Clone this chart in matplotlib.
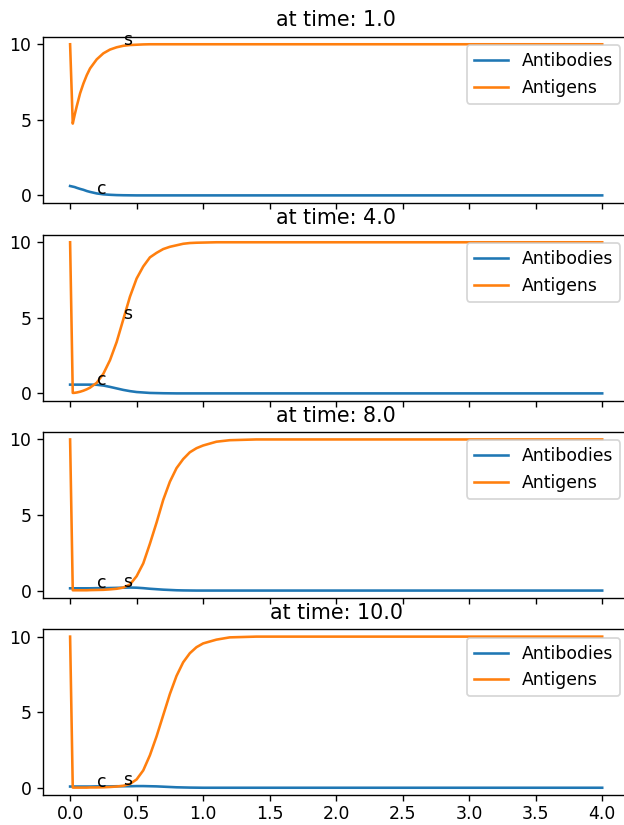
import matplotlib
matplotlib.use("Agg")
import matplotlib.pyplot as plt

# sample times of the simulation
t = [0.0, 0.02, 0.035, 0.05, 0.075, 0.1, 0.125, 0.15, 0.2, 0.25, 0.3, 0.35,
     0.4, 0.45, 0.5, 0.55, 0.6, 0.65, 0.7, 0.75, 0.8, 0.85, 0.9, 0.95, 1.0,
     1.1, 1.2, 1.4, 1.6, 2.0, 4.0]

snap_times = [1.0, 4.0, 8.0, 10.0]

antibodies_1 = [0.62, 0.58, 0.55, 0.5, 0.43, 0.37, 0.29, 0.23, 0.13, 0.07,
                0.04, 0.02, 0.01, 0.005, 0, 0, 0, 0, 0, 0, 0, 0, 0, 0, 0, 0,
                0, 0, 0, 0, 0]
antigens_1 = [10, 4.75, 5.35, 5.9, 6.75, 7.4, 7.95, 8.4, 9.0, 9.4, 9.65, 9.8,
              9.9, 9.95, 9.97, 9.99, 10, 10, 10, 10, 10, 10, 10, 10, 10, 10,
              10, 10, 10, 10, 10]

antibodies_4 = [0.58, 0.58, 0.58, 0.58, 0.58, 0.58, 0.58, 0.58, 0.57, 0.52,
                0.43, 0.33, 0.23, 0.15, 0.09, 0.06, 0.03, 0.02, 0.01, 0.005,
                0, 0, 0, 0, 0, 0, 0, 0, 0, 0, 0]
antigens_4 = [10, 0.03, 0.04, 0.06, 0.11, 0.18, 0.27, 0.38, 0.7, 1.3, 2.2,
              3.4, 4.9, 6.4, 7.6, 8.4, 9.0, 9.3, 9.55, 9.7, 9.8, 9.9, 9.95,
              9.97, 9.98, 10, 10, 10, 10, 10, 10]

antibodies_8 = [0.15, 0.15, 0.15, 0.15, 0.15, 0.15, 0.15, 0.15, 0.16, 0.16,
                0.17, 0.18, 0.19, 0.2, 0.19, 0.16, 0.12, 0.09, 0.06, 0.04,
                0.02, 0.01, 0.005, 0, 0, 0, 0, 0, 0, 0, 0]
antigens_8 = [10, 0.02, 0.02, 0.02, 0.02, 0.02, 0.02, 0.03, 0.04, 0.05, 0.08,
              0.12, 0.2, 0.4, 0.95, 1.8, 3.1, 4.5, 6.0, 7.2, 8.1, 8.7, 9.15,
              9.42, 9.6, 9.85, 9.95, 10, 10, 10, 10]

antibodies_10 = [0.08, 0.08, 0.08, 0.08, 0.08, 0.08, 0.08, 0.08, 0.09, 0.09,
                 0.09, 0.1, 0.1, 0.1, 0.11, 0.11, 0.1, 0.09, 0.07, 0.05,
                 0.03, 0.02, 0.01, 0.005, 0, 0, 0, 0, 0, 0, 0]
antigens_10 = [10, 0.01, 0.01, 0.01, 0.01, 0.01, 0.01, 0.02, 0.02, 0.03,
               0.05, 0.08, 0.13, 0.25, 0.55, 1.15, 2.15, 3.4, 4.8, 6.2, 7.4,
               8.3, 8.9, 9.3, 9.55, 9.8, 9.95, 10, 10, 10, 10]

antibodies = [antibodies_1, antibodies_4, antibodies_8, antibodies_10]
antigens = [antigens_1, antigens_4, antigens_8, antigens_10]

# "c" / "s" marker labels
c_x, s_x = 0.2, 0.4
c_y = [0.1, 0.55, 0.15, 0.06]
s_y = [9.95, 4.9, 0.25, 0.15]

DPI = 124
fig = plt.figure(figsize=(624 / DPI, 825 / DPI), dpi=DPI)
bottoms = [0.754, 0.514, 0.275, 0.036]
axes = []
for i, b in enumerate(bottoms):
    ax = fig.add_axes([0.0697, b, 0.938, 0.2015],
                      sharex=axes[0] if axes else None)
    axes.append(ax)
    ax.plot(t, antibodies[i], label="Antibodies")
    ax.plot(t, antigens[i], label="Antigens")
    ax.text(c_x, c_y[i], "c")
    ax.text(s_x, s_y[i], "s")
    ax.set_title(f"at time: {snap_times[i]}")
    ax.set_yticks([0, 5, 10])
    ax.legend(loc="upper right")
    if i < 3:
        ax.tick_params(labelbottom=False)

axes[-1].set_xticks([0, 0.5, 1, 1.5, 2, 2.5, 3, 3.5, 4])
axes[-1].set_xticklabels(["0.0", "0.5", "1.0", "1.5", "2.0", "2.5", "3.0",
                          "3.5", "4.0"])
axes[-1].tick_params(axis="x", pad=2)

fig.savefig("out.png", dpi=DPI)
